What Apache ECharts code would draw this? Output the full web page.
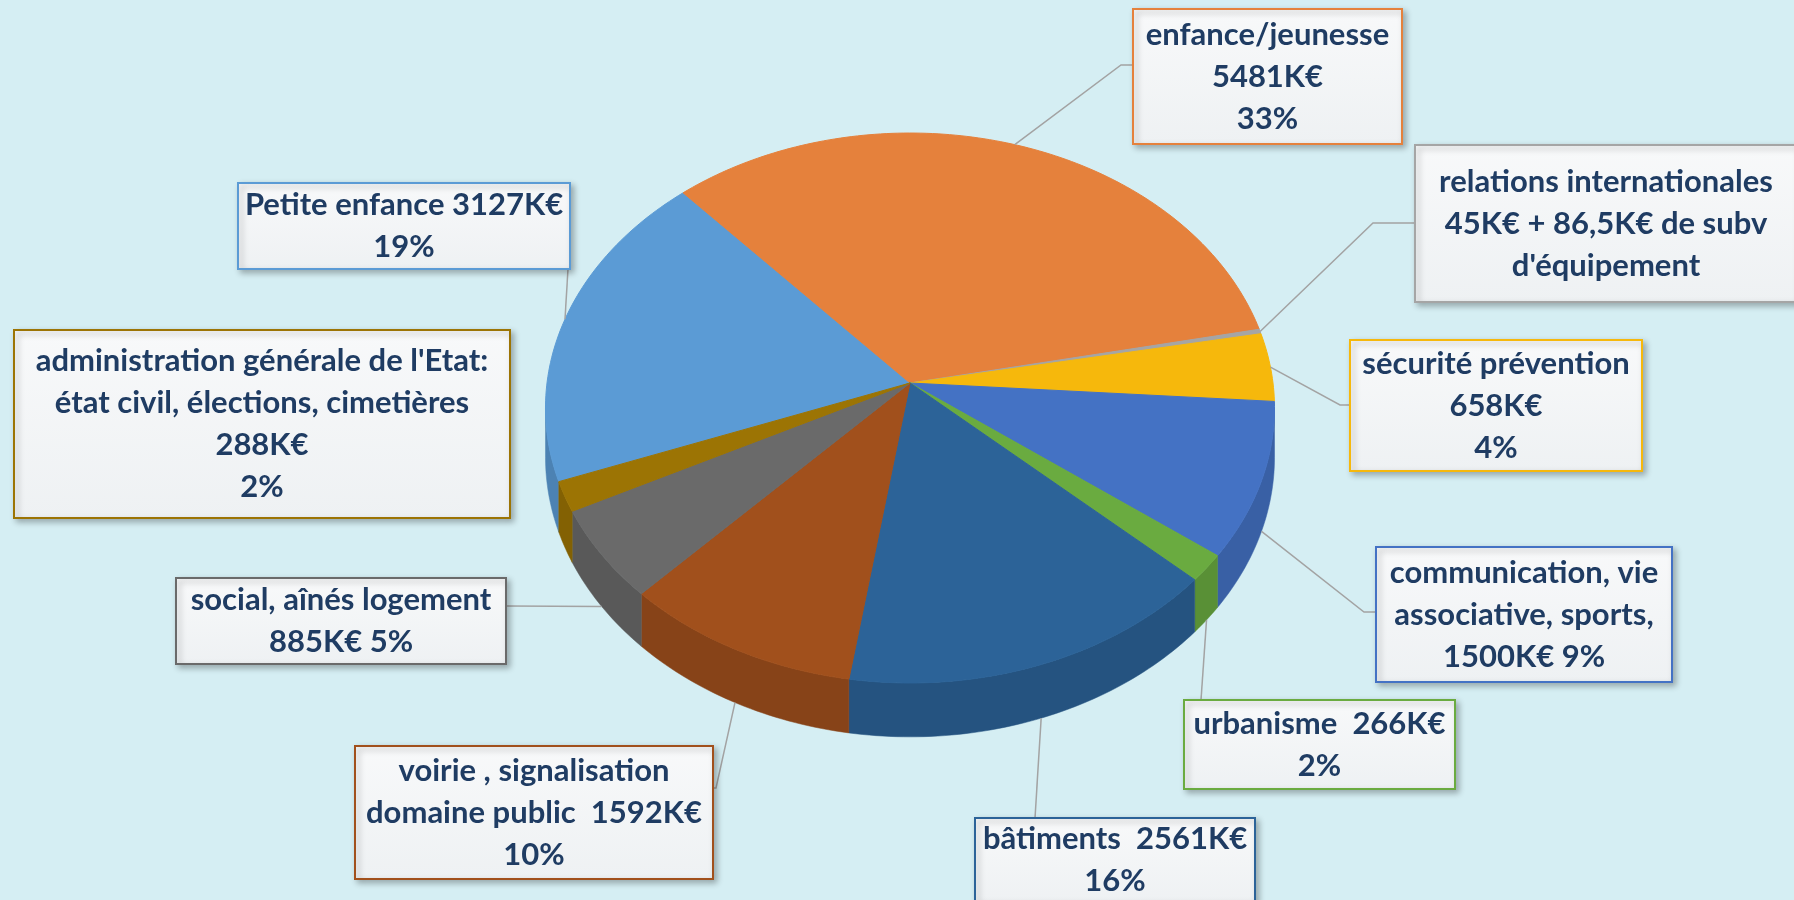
<!DOCTYPE html>
<html lang="fr">
<head>
<meta charset="UTF-8">
<title>Budget par secteur</title>
<script src="https://cdn.jsdelivr.net/npm/echarts@6/dist/echarts.min.js"></script>
<style>
    html, body {
        margin: 0;
        padding: 0;
        background: #d5eef3;
    }
    #main {
        width: 1794px;
        height: 900px;
    }
</style>
</head>
<body>
<div id="main"></div>
<script>
// données (K€), dans l'ordre des parts, sens horaire
const categories = [
    'Petite enfance', 'enfance/jeunesse', 'relations internationales', 'sécurité prévention',
    'communication, vie associative, sports', 'urbanisme', 'bâtiments',
    'voirie, signalisation domaine public', 'social, aînés logement',
    "administration générale de l'Etat"
];
const values = [3127, 5481, 45, 658, 1500, 266, 2561, 1592, 885, 288];

// textes des étiquettes ({v} = valeur, {p} = pourcentage)
const labelTexts = [
    'Petite enfance {v}K€\n{p}%',
    'enfance/jeunesse\n{v}K€\n{p}%',
    "relations internationales\n{v}K€ + 86,5K€ de subv\nd'équipement",
    'sécurité prévention\n{v}K€\n{p}%',
    'communication, vie\nassociative, sports,\n{v}K€ {p}%',
    'urbanisme  {v}K€\n{p}%',
    'bâtiments  {v}K€\n{p}%',
    'voirie , signalisation\ndomaine public  {v}K€\n{p}%',
    'social, aînés logement\n{v}K€ {p}%',
    "administration générale de l'Etat:\nétat civil, élections, cimetières\n{v}K€\n{p}%"
];

// couleurs des parts
const colors = ['#5b9bd5', '#e5813c', '#a5a5a5', '#f6b80c', '#4472c4', '#6aab40', '#2c6398', '#a1501c', '#6a6a6a', '#9c7404'];

// boîtes des étiquettes [x, y, largeur, hauteur]
const labelBoxes = [
    [238, 183, 332, 86],
    [1133, 9, 269, 135],
    [1415, 145, 382, 157],
    [1350, 340, 292, 131],
    [1376, 547, 296, 135],
    [1184, 700, 271, 89],
    [975, 818, 280, 84],
    [355, 746, 358, 133],
    [176, 578, 330, 86],
    [14, 330, 496, 188]
];
// trajet du trait de rappel après le point de départ sur la part
const labelLines = [
    [[568, 269]],
    [[1121, 65], [1133, 65]],
    [[1373, 223], [1415, 223]],
    [[1340, 405], [1350, 405]],
    [[1364, 612], [1376, 612]],
    [[1201, 700]],
    [[1035, 818]],
    [[716, 788], [713, 788]],
    [[506, 606]],
    null
];

// géométrie du camembert 3D (perspective)
const CX = 910, CY = 383, RX = 363, RY = 272.7, K = 0.0909, THICK = 49, START = 200.5;
const total = values.reduce((a, b) => a + b, 0);

function proj(deg) {
    const a = deg * Math.PI / 180, s = Math.sin(a), c = Math.cos(a), d = 1 + K * s;
    return [CX + RX * c / d, CY - RY * s / d, THICK / d];
}

function shade(hex, f) {
    const n = parseInt(hex.slice(1), 16);
    const ch = [n >> 16, (n >> 8) & 255, n & 255].map(v => Math.max(0, Math.min(255, Math.round(v * (1 + f)))));
    return 'rgb(' + ch.join(',') + ')';
}

function renderItem(params, api) {
    const i = params.dataIndex;
    let before = 0;
    for (let j = 0; j < i; j++) before += values[j];
    const a0 = START - before / total * 360;
    const a1 = a0 - api.value(0) / total * 360;
    const col = colors[i];
    const children = [];

    // dessus
    const top = [[CX, CY]];
    const n = Math.max(2, Math.ceil(a0 - a1));
    for (let k = 0; k <= n; k++) {
        const p = proj(a0 - (a0 - a1) * k / n);
        top.push([p[0], p[1]]);
    }
    children.push({
        type: 'polygon', z2: 10,
        shape: {points: top},
        style: {fill: col, stroke: col, lineWidth: 1}
    });

    // flanc visible
    [[-174.8, -5.2], [185.2, 354.8]].forEach(r => {
        const lo = Math.max(a1, r[0]), hi = Math.min(a0, r[1]);
        if (hi <= lo) return;
        const m = Math.max(2, Math.ceil(hi - lo));
        const up = [], dn = [];
        for (let k = 0; k <= m; k++) {
            const p = proj(hi - (hi - lo) * k / m);
            up.push([p[0], p[1]]);
            dn.push([p[0], p[1] + p[2]]);
        }
        const wall = shade(col, -0.16);
        children.push({
            type: 'polygon', z2: 2,
            shape: {points: up.concat(dn.reverse())},
            style: {fill: wall, stroke: wall, lineWidth: 0.5}
        });
    });

    // trait de rappel
    if (labelLines[i]) {
        const mid = (a0 + a1) / 2;
        const p = proj(mid);
        const start = Math.sin(mid * Math.PI / 180) < 0 ? [p[0], p[1] + p[2]] : [p[0], p[1]];
        children.push({
            type: 'polyline', z2: 20,
            shape: {points: [start].concat(labelLines[i])},
            style: {stroke: '#a3a3a3', lineWidth: 1.5, fill: null}
        });
    }

    // étiquette
    const b = labelBoxes[i];
    const v = api.value(0);
    const txt = labelTexts[i].replace('{v}', v).replace('{p}', Math.round(v / total * 100));
    children.push({
        type: 'rect', z2: 30,
        shape: {x: b[0], y: b[1], width: b[2], height: b[3]},
        style: {
            fill: new echarts.graphic.LinearGradient(0, 0, 0, 1, [
                {offset: 0, color: '#f8f9fa'},
                {offset: 1, color: '#eef1f3'}
            ]),
            stroke: col, lineWidth: 2,
            shadowBlur: 6, shadowOffsetX: 3, shadowOffsetY: 3, shadowColor: 'rgba(0,0,0,0.28)'
        }
    });
    children.push({
        type: 'text', z2: 31,
        style: {
            text: txt,
            x: b[0] + b[2] / 2, y: b[1] + b[3] / 2,
            align: 'center', verticalAlign: 'middle',
            fill: '#1f3c63',
            fontFamily: 'Lato', fontWeight: 'bold', fontSize: 31,
            lineHeight: 42
        }
    });

    return {type: 'group', children: children};
}

const myChart = echarts.init(document.getElementById('main'));
myChart.setOption({
    backgroundColor: '#d5eef3',
    animation: false,
    series: [{
        type: 'custom',
        coordinateSystem: 'none',
        renderItem: renderItem,
        data: values.map((v, i) => ({name: categories[i], value: v}))
    }]
});
</script>
</body>
</html>
